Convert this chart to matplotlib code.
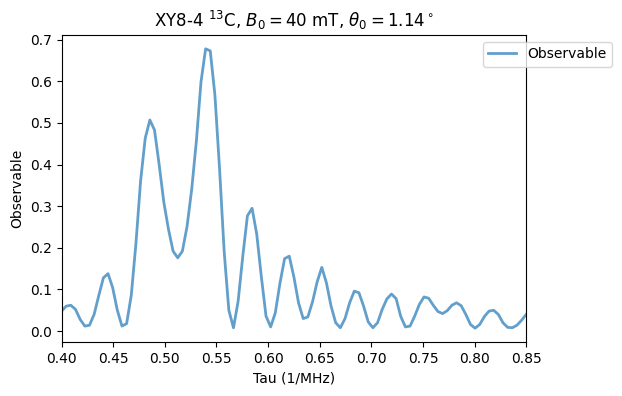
import numpy as np
from matplotlib import pyplot as plt

# tau grid (1/MHz), 101 samples from 0.40 to 0.85
tau = np.linspace(0.40, 0.85, 101)

observable = [
	0.048, 0.060, 0.062, 0.052, 0.028, 0.012, 0.014, 0.040, 0.085, 0.128,
	0.138, 0.104, 0.050, 0.012, 0.018, 0.086, 0.210, 0.360, 0.463, 0.507,
	0.483, 0.400, 0.310, 0.245, 0.192, 0.176, 0.192, 0.251, 0.340, 0.455,
	0.598, 0.678, 0.673, 0.567, 0.390, 0.190, 0.050, 0.008, 0.072, 0.180,
	0.277, 0.295, 0.233, 0.130, 0.036, 0.010, 0.044, 0.115, 0.174, 0.180,
	0.130, 0.068, 0.030, 0.034, 0.070, 0.118, 0.153, 0.116, 0.060, 0.020,
	0.008, 0.030, 0.068, 0.096, 0.092, 0.060, 0.022, 0.008, 0.020, 0.052,
	0.077, 0.089, 0.078, 0.035, 0.010, 0.012, 0.036, 0.064, 0.082, 0.079,
	0.062, 0.047, 0.042, 0.049, 0.062, 0.068, 0.061, 0.040, 0.016, 0.007,
	0.016, 0.035, 0.048, 0.050, 0.040, 0.020, 0.009, 0.008, 0.014, 0.026,
	0.040,
]

fig = plt.figure(figsize=(6.22, 3.96), dpi=100)
ax = fig.add_axes([0.099, 0.136, 0.747, 0.776])
ax.plot(tau, observable, '-', color='C0', alpha=0.7, lw=2, label='Observable')
ax.set_xlim(0.40, 0.85)
ax.set_xlabel('Tau (1/MHz)')
ax.set_ylabel('Observable')
ax.set_title(r'XY8-4 $^{13}$C, $B_0 = 40$ mT, $\theta_0 = 1.14^\circ$')
ax.legend(loc='upper right', bbox_to_anchor=(1.2, 1.0))
fig.savefig('out.png', dpi=100)
